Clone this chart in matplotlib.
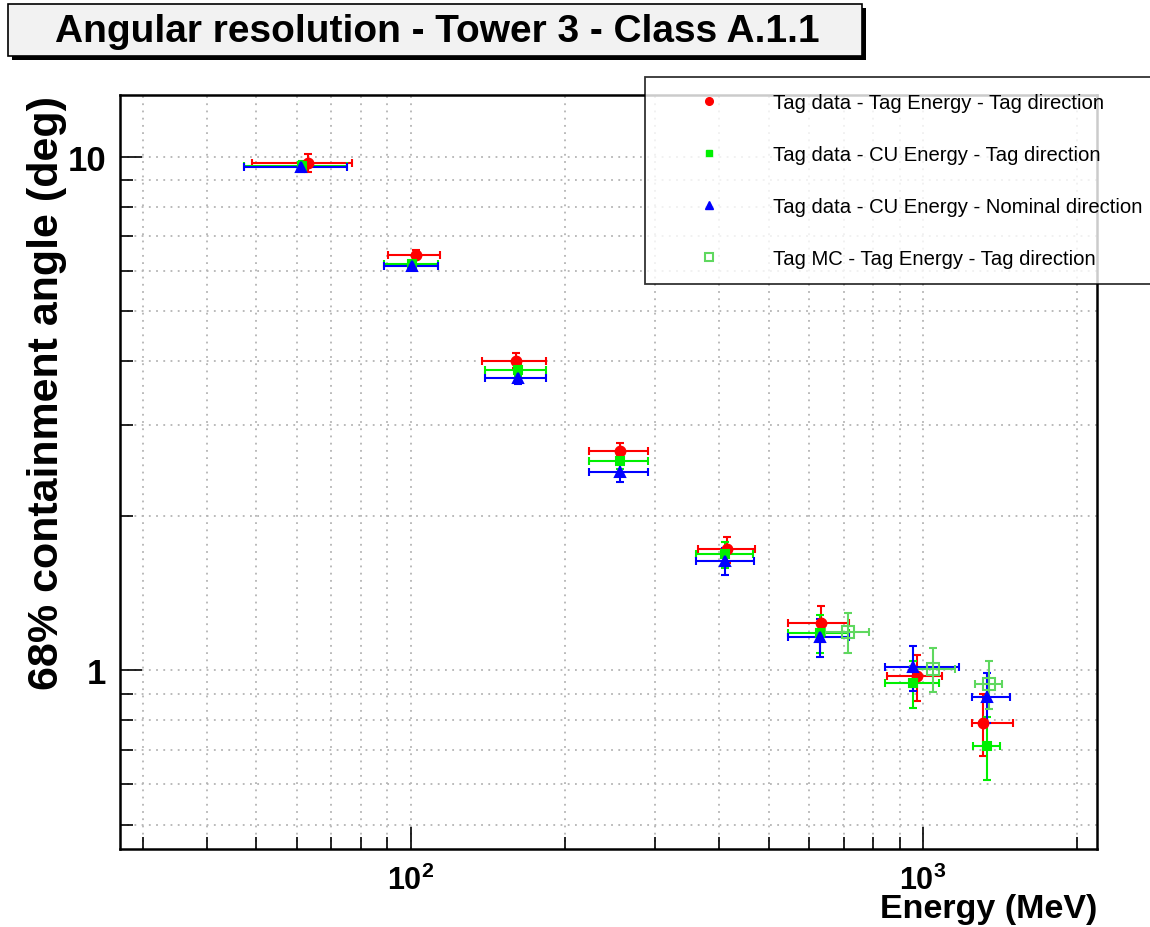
import numpy as np
import matplotlib
matplotlib.use("Agg")
import matplotlib.pyplot as plt
from matplotlib.lines import Line2D
from matplotlib.patches import Rectangle
from matplotlib.ticker import FixedLocator, NullFormatter

plt.rcParams['font.family'] = ['Liberation Sans', 'DejaVu Sans']
plt.rcParams['mathtext.fontset'] = 'custom'
plt.rcParams['mathtext.rm'] = 'Liberation Sans:bold'
plt.rcParams['mathtext.bf'] = 'Liberation Sans:bold'
plt.rcParams['mathtext.it'] = 'Liberation Sans:bold'

# Tag data - Tag Energy - Tag direction
red_e = [63.2, 102.5, 160.9, 256.6, 415, 631, 972, 1308]
red_lo = [49.1, 90.3, 137.9, 223, 363, 545, 852, 1246]
red_hi = [76.8, 114.2, 183.7, 290.8, 469, 718, 1091, 1499]
red_y = [9.75, 6.45, 4.01, 2.67, 1.72, 1.235, 0.972, 0.79]
red_err = [0.40, 0.13, 0.13, 0.10, 0.10, 0.10, 0.10, 0.11]

# Tag data - CU Energy - Tag direction
green_e = [61.3, 100.6, 162.2, 256.6, 410, 628, 958, 1333]
green_lo = [47.3, 88.7, 139.9, 223, 361, 545, 843, 1252]
green_hi = [75.3, 113.2, 183.4, 290.8, 466, 718, 1072, 1416]
green_y = [9.60, 6.17, 3.84, 2.55, 1.68, 1.18, 0.943, 0.711]
green_err = [0.20, 0.10, 0.10, 0.08, 0.10, 0.10, 0.10, 0.10]

# Tag data - CU Energy - Nominal direction
blue_e = [61.2, 100.6, 162.2, 256.6, 410, 630, 958, 1330]
blue_lo = [47.3, 88.7, 139.9, 223, 361, 545, 843, 1246]
blue_hi = [75.3, 113.2, 183.4, 290.8, 467, 718, 1173, 1477]
blue_y = [9.56, 6.12, 3.71, 2.43, 1.63, 1.16, 1.012, 0.888]
blue_err = [0.20, 0.10, 0.10, 0.10, 0.10, 0.10, 0.10, 0.10]

# Tag MC - Tag Energy - Tag direction
mc_e = [714, 1048, 1343]
mc_lo = [643, 943, 1261]
mc_hi = [785, 1156, 1427]
mc_y = [1.185, 1.004, 0.94]
mc_err = [0.105, 0.098, 0.10]

labels = ["Tag data - Tag Energy - Tag direction",
          "Tag data - CU Energy - Tag direction",
          "Tag data - CU Energy - Nominal direction",
          "Tag MC - Tag Energy - Tag direction"]

RED, GREEN, BLUE, MC = '#ff0000', '#00f000', '#0000ff', '#5fd85f'

W, H = 1150, 928
fig = plt.figure(figsize=(W / 100, H / 100), dpi=100)
ax = fig.add_axes([120 / W, 1 - 850 / H, 977 / W, 754 / H])
ax.set_xscale('log')
ax.set_yscale('log')
ax.set_xlim(27.1, 2185)
ax.set_ylim(0.448, 13.2)


def draw(e, lo, hi, y, err, color, marker, ms, face=None):
    e = np.array(e)
    xerr = [e - np.array(lo), np.array(hi) - e]
    ax.errorbar(e, y, xerr=xerr, yerr=err, fmt=marker, color=color,
                mfc=face if face is not None else color, mec=color,
                ms=ms, mew=1.5, elinewidth=1.5, capsize=3, capthick=1.5,
                zorder=3)


draw(red_e, red_lo, red_hi, red_y, red_err, RED, 'o', 7)
draw(green_e, green_lo, green_hi, green_y, green_err, GREEN, 's', 6)
draw(blue_e, blue_lo, blue_hi, blue_y, blue_err, BLUE, '^', 7)
draw(mc_e, mc_lo, mc_hi, mc_y, mc_err, MC, 's', 8, face='none')

# ticks and grid
xmaj = [100, 1000]
xmin = [30, 40, 50, 60, 70, 80, 90, 200, 300, 400, 500, 600, 700, 800, 900, 2000]
ymaj = [1, 10]
ymin = [0.5, 0.6, 0.7, 0.8, 0.9, 2, 3, 4, 5, 6, 7, 8, 9]
ax.xaxis.set_major_locator(FixedLocator(xmaj))
ax.xaxis.set_minor_locator(FixedLocator(xmin))
ax.yaxis.set_major_locator(FixedLocator(ymaj))
ax.yaxis.set_minor_locator(FixedLocator(ymin))
ax.set_xticklabels([r'$10^{2}$', r'$10^{3}$'])
ax.set_yticklabels(['1', '10'])
ax.xaxis.set_minor_formatter(NullFormatter())
ax.yaxis.set_minor_formatter(NullFormatter())
ax.tick_params(which='both', direction='in', top=False, right=False, width=1.2, color='black')
ax.tick_params(which='major', length=16)
ax.tick_params(which='minor', length=9)
ax.tick_params(axis='x', which='major', labelsize=22, pad=11)
ax.tick_params(axis='y', which='major', labelsize=25, pad=10)
for lab in ax.get_yticklabels():
    lab.set_fontweight('bold')
ax.grid(True, which='both', color='#b4b4b4', linestyle=(0, (1, 3)), linewidth=1.3)
for sp in ax.spines.values():
    sp.set_linewidth(1.8)

ax.set_xlabel('Energy (MeV)', fontsize=24.5, fontweight='bold', loc='right')
ax.xaxis.set_label_coords(1.0, -0.059)
ax.set_ylabel('68% containment angle (deg)', fontsize=31, fontweight='bold', loc='top')
ax.yaxis.set_label_coords(-0.054, 1.0)

# legend with marker-only entries
handles = [
    Line2D([], [], ls='none', marker='o', color=RED, ms=5.5),
    Line2D([], [], ls='none', marker='s', color=GREEN, ms=5),
    Line2D([], [], ls='none', marker='^', color=BLUE, ms=5.5),
    Line2D([], [], ls='none', marker='s', mfc='none', mec=MC, mew=1.5, ms=6),
]
leg = ax.legend(handles, labels, loc='upper left',
                bbox_to_anchor=(645 / W, 1 - 78 / H, 510 / W, 0),
                bbox_transform=fig.transFigure, mode='expand',
                fontsize=14.6, frameon=True, fancybox=False, borderpad=0.8,
                handlelength=4.71, handletextpad=0.8, labelspacing=1.62,
                borderaxespad=0)
leg.get_frame().set_edgecolor('black')
leg.get_frame().set_linewidth(1.3)
leg.set_zorder(10)

# title pave with drop shadow
fig.patches.append(Rectangle((12 / W, 1 - 61 / H), 854 / W, 52 / H,
                             transform=fig.transFigure, facecolor='black',
                             edgecolor='none', zorder=1))
fig.patches.append(Rectangle((8 / W, 1 - 57 / H), 854 / W, 52 / H,
                             transform=fig.transFigure, facecolor='#f2f2f2',
                             edgecolor='black', linewidth=1.2, zorder=2))
fig.text(437 / W, 1 - 32 / H, 'Angular resolution - Tower 3 - Class A.1.1',
         fontsize=28, fontweight='bold', ha='center', va='center', zorder=3)

fig.savefig('out.png', dpi=100)
